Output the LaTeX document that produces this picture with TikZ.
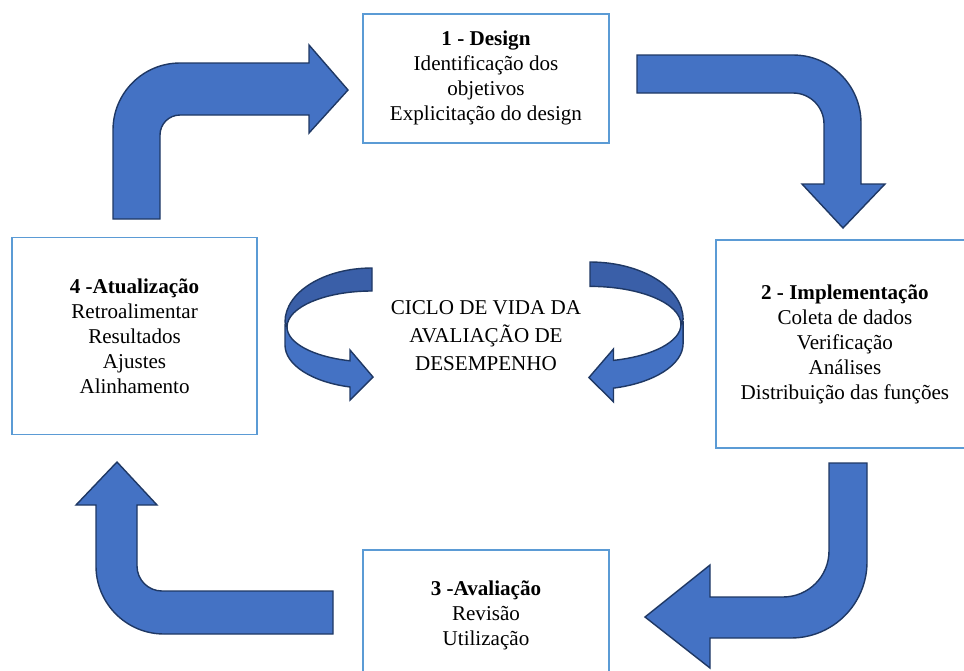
\documentclass[tikz,border=0pt]{standalone}
\usepackage{fontspec}
\setmainfont{Liberation Serif}
\usetikzlibrary{positioning}
\definecolor{boxblue}{HTML}{5B9BD5}
\definecolor{arrowblue}{HTML}{4472C4}
\definecolor{arrowdark}{HTML}{3A5FA8}
\definecolor{arrowline}{HTML}{1F3864}

\begin{document}
\begin{tikzpicture}[x=0.02cm, y=0.02cm, on grid, node distance=5cm]
  \tikzstyle{stage} = [draw=boxblue, line width=1.1pt, fill=white, rectangle, minimum width=4.92cm, minimum height=2.58cm, inner sep=0pt, align=center, font={\fontsize{12}{14.2}\selectfont}]
  \tikzstyle{cycleText} = [align=center, font={\fontsize{12}{16}\selectfont}]
  \tikzstyle{bigArrow} = [fill=arrowblue, draw=arrowline, line width=0.8pt]
  \tikzstyle{ribbonBack} = [bigArrow, fill=arrowdark]

  \useasboundingbox (0,0) rectangle (964,-670);
  \clip (0,0) rectangle (964,-670);

  \node[cycleText] (ciclo) at (486,-336) {CICLO DE VIDA DA\\AVALIAÇÃO DE\\DESEMPENHO};
  \node[stage] (design) [above=5.16cm of ciclo] {\textbf{1 - Design}\\Identificação dos\\objetivos\\Explicitação do design};
  \node[stage, minimum width=5.16cm, minimum height=4.16cm] (impl) [right=7.18cm of ciclo, yshift=-0.16cm] {\textbf{2 - Implementação}\\Coleta de dados\\Verificação\\Análises\\Distribuição das funções};
  \node[stage] (aval) [below=5.58cm of ciclo] {\textbf{3 -Avaliação}\\Revisão\\Utilização};
  \node[stage, minimum width=4.9cm, minimum height=3.94cm] (atual) [left=7.03cm of ciclo] {\textbf{4 -Atualização}\\Retroalimentar\\Resultados\\Ajustes\\Alinhamento};

  \filldraw[bigArrow] (113,-219) -- (113,-130) arc[start angle=180, end angle=90, radius=67] -- (309,-63) -- (309,-45) -- (348,-90) -- (309,-133) -- (309,-115) -- (180,-115) arc[start angle=90, end angle=180, radius=20] -- (160,-219) -- cycle;
  \filldraw[bigArrow] (637,-55) -- (793,-55) arc[start angle=90, end angle=0, radius=68] -- (861,-184) -- (885,-184) -- (843,-228) -- (802,-184) -- (824,-184) -- (824,-124) arc[start angle=0, end angle=90, radius=31] -- (637,-93) -- cycle;
  \filldraw[bigArrow] (867,-463) -- (867,-562) arc[start angle=0, end angle=-90, radius=76] -- (710,-638) -- (710,-668) -- (645,-617) -- (710,-565) -- (710,-597) -- (783,-597) arc[start angle=-90, end angle=0, radius=46] -- (829,-463) -- cycle;
  \filldraw[bigArrow] (333,-591) -- (162,-591) arc[start angle=270, end angle=180, radius=25] -- (137,-505) -- (157,-505) -- (117,-462) -- (76,-505) -- (96,-505) -- (96,-566) arc[start angle=180, end angle=270, radius=68] -- (333,-634) -- cycle;

  \begin{scope}[shift={(372,-268)}]
    \filldraw[ribbonBack] (0,0) arc[start angle=90, end angle=180, x radius=87, y radius=54] -- (-85,-59) arc[start angle=180, end angle=90, x radius=85, y radius=36] -- cycle;
    \filldraw[bigArrow] (-87,-57) -- (-87,-77) arc[start angle=180, end angle=255.35, x radius=87, y radius=43.4] -- (-22,-132) -- (1,-109) -- (-22,-82) -- (-22,-92.8) arc[start angle=255, end angle=180, x radius=85, y radius=35] -- cycle;
  \end{scope}
  \begin{scope}[shift={(590,-262)}, xscale=-1.07, yscale=1.06]
    \filldraw[ribbonBack] (0,0) arc[start angle=90, end angle=180, x radius=87, y radius=54] -- (-85,-59) arc[start angle=180, end angle=90, x radius=85, y radius=36] -- cycle;
    \filldraw[bigArrow] (-87,-57) -- (-87,-77) arc[start angle=180, end angle=255.35, x radius=87, y radius=43.4] -- (-22,-132) -- (1,-109) -- (-22,-82) -- (-22,-92.8) arc[start angle=255, end angle=180, x radius=85, y radius=35] -- cycle;
  \end{scope}
\end{tikzpicture}
\end{document}
